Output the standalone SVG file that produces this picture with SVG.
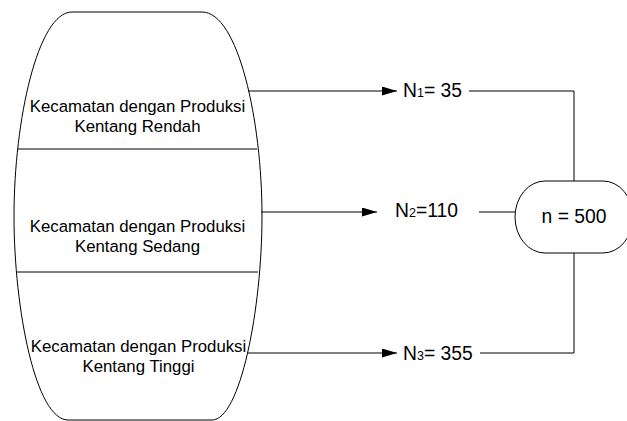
<svg xmlns="http://www.w3.org/2000/svg" width="627" height="421" viewBox="0 0 627 421">
<style>
.s{fill:#fff;stroke:#000;stroke-width:1}
.l{fill:none;stroke:#000;stroke-width:1}
.t{font-family:"Liberation Sans",Arial,sans-serif;font-size:16.8px;fill:#000;text-anchor:middle}
.r{font-family:"Liberation Sans",Arial,sans-serif;font-size:19.3px;fill:#000}
.sub{font-size:12.5px}
</style>
<defs>
<marker id="ah" markerUnits="userSpaceOnUse" markerWidth="16" markerHeight="10" refX="15" refY="4.5" orient="auto">
<path d="M0,0 L15,4.5 L0,9 Z" fill="#000"/>
</marker>
</defs>
<g id="strata">
<path class="s" d="M72,12 L202,12 C238,12 262,120 262,216 C262,310 240,420 212,420 L68,420 C36,420 14,310 14,216 C14,120 38,12 72,12 Z"/>
<line class="l" x1="18" y1="149" x2="257" y2="149"/>
<line class="l" x1="17" y1="272" x2="258" y2="272"/>
<text class="t" x="137.5" y="112">Kecamatan dengan Produksi<tspan x="137.5" y="132">Kentang Rendah</tspan></text>
<text class="t" x="137.5" y="232">Kecamatan dengan Produksi<tspan x="137.5" y="252">Kentang Sedang</tspan></text>
<text class="t" x="138.5" y="352">Kecamatan dengan Produksi<tspan x="138.5" y="372">Kentang Tinggi</tspan></text>
</g>
<g id="total">
<rect class="s" x="515" y="181" width="118" height="72" rx="30" ry="36"/>
<text class="r" x="574" y="223" text-anchor="middle">n = 500</text>
</g>
<g id="n1"><text class="r" x="403" y="97">N<tspan class="sub">1</tspan>= 35</text></g>
<g id="n2"><text class="r" x="395" y="217">N<tspan class="sub">2</tspan>=110</text></g>
<g id="n3"><text class="r" x="403" y="360">N<tspan class="sub">3</tspan>= 355</text></g>
<g id="connectors">
<line class="l" x1="248" y1="91" x2="397" y2="91" marker-end="url(#ah)"/>
<line class="l" x1="261" y1="212" x2="377" y2="212" marker-end="url(#ah)"/>
<line class="l" x1="247" y1="353" x2="397" y2="353" marker-end="url(#ah)"/>
<polyline class="l" points="469,91 574,91 574,181"/>
<line class="l" x1="479" y1="212" x2="515" y2="212"/>
<polyline class="l" points="480,353 574,353 574,253"/>
</g>
</svg>
